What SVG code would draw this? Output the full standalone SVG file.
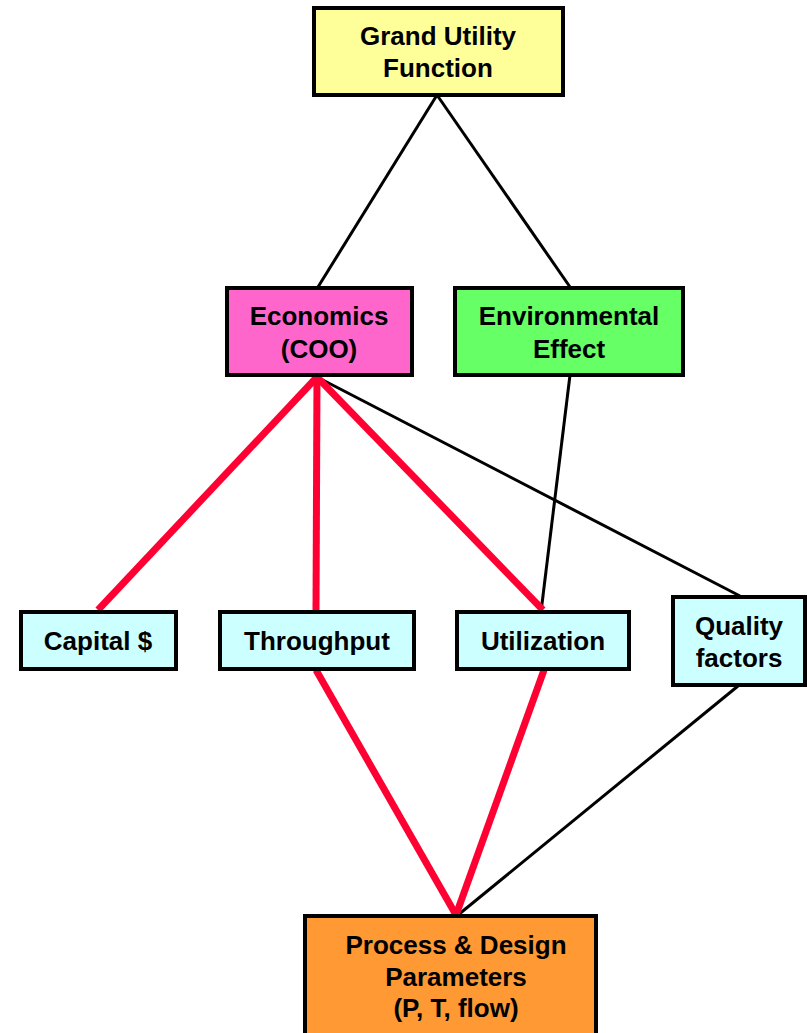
<svg xmlns="http://www.w3.org/2000/svg" width="807" height="1033" viewBox="0 0 807 1033">
<style>
.box{stroke:#000;stroke-width:4}
.t{font-family:"Liberation Sans",Arial,sans-serif;font-weight:bold;font-size:26px;text-anchor:middle;fill:#000}
.red{stroke:#FF0033;stroke-width:7;fill:none}
.blk{stroke:#000;stroke-width:3;fill:none}
</style>
<rect width="807" height="1033" fill="#fff"/>
<g id="connectors">
<line class="blk" x1="437" y1="95" x2="318" y2="287"/>
<line class="blk" x1="437" y1="95" x2="570" y2="287"/>
<line class="blk" x1="317" y1="377" x2="740" y2="596"/>
<line class="blk" x1="570" y1="375" x2="541" y2="612"/>
<line class="blk" x1="738" y1="686" x2="458" y2="915"/>
<line class="red" x1="317" y1="377" x2="98" y2="610"/>
<line class="red" x1="317" y1="377" x2="316" y2="610"/>
<line class="red" x1="317" y1="377" x2="543" y2="610"/>
<line class="red" x1="316" y1="670" x2="456" y2="915"/>
<line class="red" x1="544" y1="670" x2="456" y2="915"/>
</g>
<g id="grand">
<rect class="box" x="314" y="8" width="249" height="87" fill="#FFFF99"/>
<text class="t" x="438" y="45">Grand Utility</text>
<text class="t" x="438" y="77">Function</text>
</g>
<g id="economics">
<rect class="box" x="227" y="288" width="185" height="87" fill="#FF66CC"/>
<text class="t" x="319" y="325">Economics</text>
<text class="t" x="319" y="358">(COO)</text>
</g>
<g id="environmental">
<rect class="box" x="455" y="288" width="228" height="87" fill="#66FF66"/>
<text class="t" x="569" y="325">Environmental</text>
<text class="t" x="569" y="358">Effect</text>
</g>
<g id="capital">
<rect class="box" x="21" y="612" width="155" height="57" fill="#CCFFFF"/>
<text class="t" x="98" y="650">Capital $</text>
</g>
<g id="throughput">
<rect class="box" x="220" y="612" width="194" height="57" fill="#CCFFFF"/>
<text class="t" x="317" y="650">Throughput</text>
</g>
<g id="utilization">
<rect class="box" x="457" y="612" width="172" height="57" fill="#CCFFFF"/>
<text class="t" x="543" y="650">Utilization</text>
</g>
<g id="quality">
<rect class="box" x="673" y="597" width="132" height="88" fill="#CCFFFF"/>
<text class="t" x="739" y="635">Quality</text>
<text class="t" x="739" y="667">factors</text>
</g>
<g id="process">
<rect class="box" x="305" y="916" width="291" height="130" fill="#FF9933"/>
<text class="t" x="456" y="954">Process &amp; Design</text>
<text class="t" x="456" y="986">Parameters</text>
<text class="t" x="456" y="1017">(P, T, flow)</text>
</g>
</svg>
